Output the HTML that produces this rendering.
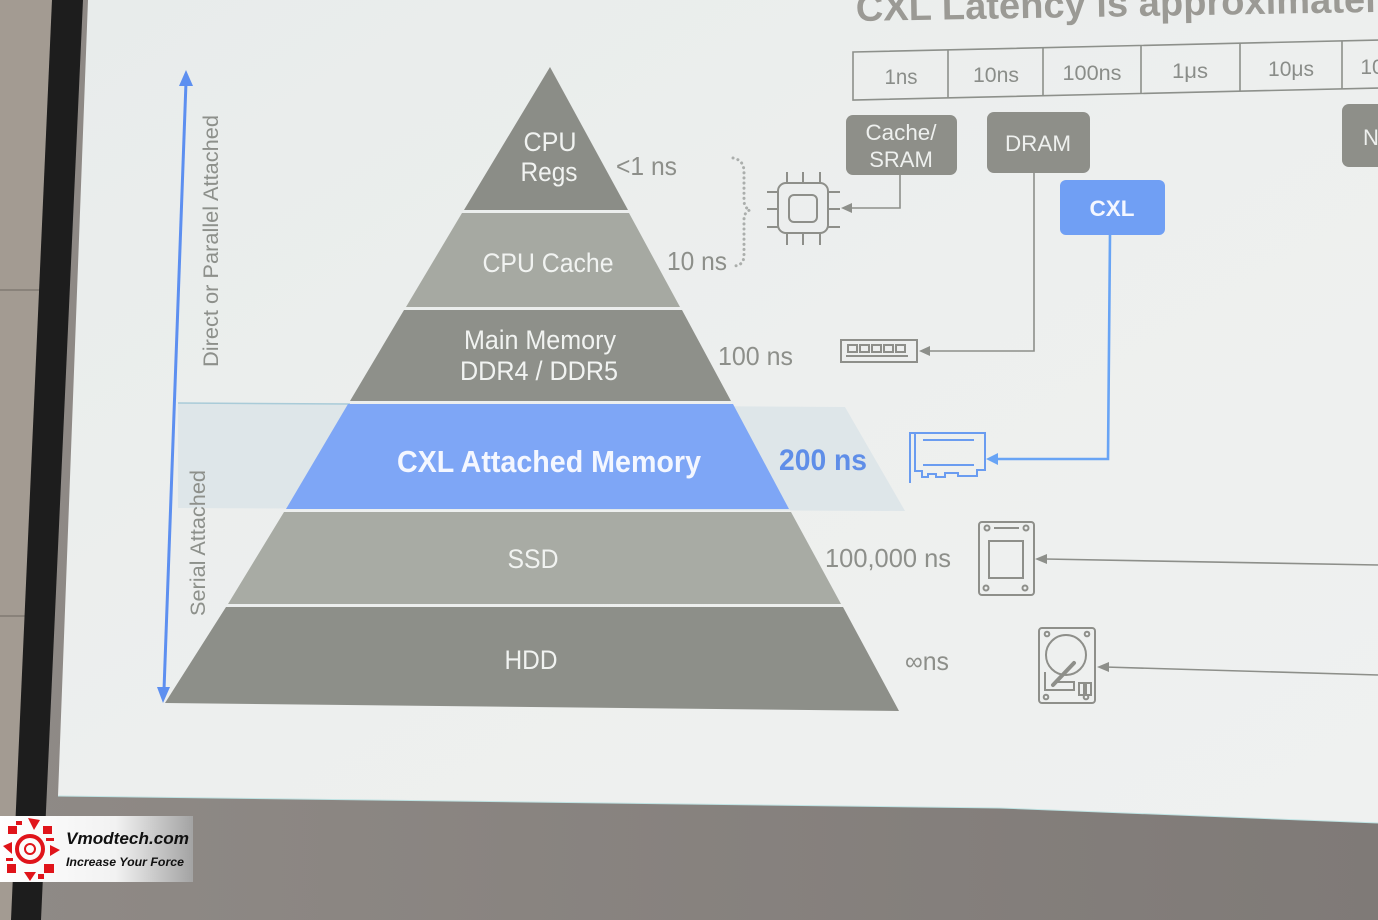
<!DOCTYPE html>
<html><head><meta charset="utf-8"><style>
html,body{margin:0;padding:0;background:#8b8683;}
svg{display:block}
text{font-family:"Liberation Sans",sans-serif}
</style></head><body>
<svg width="1378" height="920" viewBox="0 0 1378 920" xmlns="http://www.w3.org/2000/svg">
<defs>
<linearGradient id="bgg" x1="0" y1="0" x2="1" y2="0">
<stop offset="0" stop-color="#8f8a86"/><stop offset="1" stop-color="#7f7a77"/>
</linearGradient>
<linearGradient id="slideg" x1="0" y1="0" x2="1" y2="1">
<stop offset="0" stop-color="#e8eceb"/><stop offset="0.5" stop-color="#edefee"/><stop offset="1" stop-color="#eff1f0"/>
</linearGradient>
<linearGradient id="logog" x1="0" y1="0" x2="1" y2="0">
<stop offset="0" stop-color="#ffffff"/><stop offset="0.6" stop-color="#f2f2f2"/><stop offset="1" stop-color="#a3a3a3"/>
</linearGradient>
</defs>
<!-- background -->
<rect x="0" y="0" width="1378" height="920" fill="url(#bgg)"/>
<polygon points="0,0 52,0 12,920 0,920" fill="#a39b92"/>
<line x1="0" y1="290" x2="48" y2="290" stroke="#6f6a62" stroke-width="1"/>
<line x1="0" y1="616" x2="34" y2="616" stroke="#6f6a62" stroke-width="1"/>
<polygon points="52,0 83,0 41,920 11,920" fill="#1d1d1d"/>
<!-- slide -->
<polygon points="88,0 1378,0 1378,823 1000,808 58,796" fill="url(#slideg)"/>
<polyline points="58,796 1000,808 1378,823" fill="none" stroke="#bfe3e3" stroke-width="1"/>

<!-- title -->
<text x="856" y="21" font-size="38" font-weight="bold" fill="#9b9a95" transform="rotate(-1 856 21)" textLength="520" lengthAdjust="spacingAndGlyphs">CXL Latency is approximatel</text>

<!-- latency table -->
<g stroke="#8d908b" stroke-width="1.6" fill="none">
<polygon points="853,52 1380,40 1380,88 853,100"/>
<line x1="948" y1="50" x2="948" y2="98"/>
<line x1="1043" y1="48" x2="1043" y2="96"/>
<line x1="1141" y1="45" x2="1141" y2="93"/>
<line x1="1240" y1="43" x2="1240" y2="91"/>
<line x1="1342" y1="41" x2="1342" y2="89"/>
</g>
<g font-size="21" fill="#8a8d89" text-anchor="middle">
<text x="901" y="84" textLength="33" lengthAdjust="spacingAndGlyphs">1ns</text>
<text x="996" y="82" textLength="46" lengthAdjust="spacingAndGlyphs">10ns</text>
<text x="1092" y="80" textLength="59" lengthAdjust="spacingAndGlyphs">100ns</text>
<text x="1190" y="78" textLength="36" lengthAdjust="spacingAndGlyphs">1μs</text>
<text x="1291" y="76">10μs</text>
<text x="1372" y="74">10</text>
</g>

<!-- boxes -->
<rect x="846" y="115" width="111" height="60" rx="7" fill="#8e8f89"/>
<text x="901" y="140" font-size="22" fill="#eef0ee" text-anchor="middle" textLength="71" lengthAdjust="spacingAndGlyphs">Cache/</text>
<text x="901" y="167" font-size="22" fill="#eef0ee" text-anchor="middle">SRAM</text>
<rect x="987" y="112" width="103" height="61" rx="7" fill="#8e8f89"/>
<text x="1038" y="151" font-size="22" fill="#eef0ee" text-anchor="middle" textLength="66" lengthAdjust="spacingAndGlyphs">DRAM</text>
<rect x="1060" y="180" width="105" height="55" rx="6" fill="#709ff4"/>
<text x="1112" y="216" font-size="22" font-weight="bold" fill="#f4f7ff" text-anchor="middle" textLength="45" lengthAdjust="spacingAndGlyphs">CXL</text>
<rect x="1342" y="104" width="60" height="63" rx="7" fill="#8e8f89"/>
<text x="1363" y="145" font-size="22" fill="#eef0ee">N</text>

<!-- connectors -->
<g stroke="#8d8f8a" stroke-width="1.6" fill="none">
<polyline points="900,175 900,208 850,208"/>
<polyline points="1034,173 1034,351 928,351"/>
<line x1="1378" y1="565" x2="1045" y2="559"/>
<line x1="1378" y1="675" x2="1105" y2="667"/>
</g>
<g fill="#8d8f8a">
<polygon points="841,208 852,203 852,213"/>
<polygon points="919,351 930,346 930,356"/>
<polygon points="1035,559 1047,554 1047,564"/>
<polygon points="1097,667 1109,662 1109,672"/>
</g>
<polyline points="1110,235 1108,459 996,459" fill="none" stroke="#68a4f5" stroke-width="2.6"/>
<polygon points="986,459 998,453 998,465" fill="#68a4f5"/>

<!-- dotted brace -->
<path d="M733,158 Q744,160 744,172 L744,200 Q744,208 750,210 Q744,212 744,220 L744,255 Q744,266 733,266" fill="none" stroke="#abaeac" stroke-width="3" stroke-dasharray="0.1 5" stroke-linecap="round"/>

<!-- chip icon -->
<g stroke="#8e8f8a" stroke-width="2" fill="none">
<rect x="778" y="183" width="50" height="50" rx="8"/>
<rect x="789" y="195" width="28" height="27" rx="5"/>
<line x1="787" y1="172" x2="787" y2="183"/><line x1="803" y1="172" x2="803" y2="183"/><line x1="820" y1="172" x2="820" y2="183"/>
<line x1="787" y1="233" x2="787" y2="245"/><line x1="803" y1="233" x2="803" y2="245"/><line x1="820" y1="233" x2="820" y2="245"/>
<line x1="767" y1="192" x2="778" y2="192"/><line x1="767" y1="209" x2="778" y2="209"/><line x1="767" y1="227" x2="778" y2="227"/>
<line x1="828" y1="192" x2="840" y2="192"/><line x1="828" y1="209" x2="840" y2="209"/><line x1="828" y1="227" x2="840" y2="227"/>
</g>

<!-- memory module icon -->
<g stroke="#8e8f8a" stroke-width="2" fill="none">
<rect x="841" y="340" width="76" height="22"/>
<rect x="848" y="345" width="9" height="7"/><rect x="860" y="345" width="9" height="7"/><rect x="872" y="345" width="9" height="7"/><rect x="884" y="345" width="9" height="7"/><rect x="896" y="345" width="9" height="7"/>
<line x1="846" y1="356" x2="908" y2="356"/>
</g>

<!-- CXL card icon -->
<g stroke="#6a9cf0" stroke-width="2" fill="none">
<polyline points="914,433 910,433 910,483"/>
<path d="M915,433 H985 V470 H977 V476 H958 V473 H945 V477 H936 V474 H928 V477 H922 V471 H915 Z"/>
<line x1="923" y1="440" x2="974" y2="440"/>
<line x1="923" y1="465" x2="974" y2="465"/>
</g>

<!-- SSD icon -->
<g stroke="#8e8f8a" stroke-width="2" fill="none">
<rect x="979" y="522" width="55" height="73" rx="3"/>
<rect x="989" y="541" width="34" height="37"/>
<line x1="994" y1="528" x2="1019" y2="528"/>
<circle cx="987" cy="528" r="2.5"/><circle cx="1026" cy="528" r="2.5"/>
<circle cx="986" cy="588" r="2.5"/><circle cx="1025" cy="588" r="2.5"/>
</g>

<!-- HDD icon -->
<g stroke="#8e8f8a" stroke-width="2" fill="none">
<rect x="1039" y="628" width="56" height="75" rx="3"/>
<circle cx="1047" cy="634" r="2.3"/><circle cx="1087" cy="634" r="2.3"/>
<circle cx="1046" cy="697" r="2.3"/><circle cx="1086" cy="697" r="2.3"/>
<circle cx="1066" cy="655" r="20"/>
<path d="M1045,672 V690 H1074 V682 H1056"/>
<rect x="1079" y="683" width="5" height="12"/><rect x="1086" y="683" width="5" height="12"/>
</g>
<line x1="1074" y1="663" x2="1053" y2="685" stroke="#8e8f8a" stroke-width="4" stroke-linecap="round"/>

<!-- highlight band -->
<polygon points="178,403 845,407 905,511 178,508" fill="#dee6e9"/>
<line x1="178" y1="403" x2="350" y2="404" stroke="#a9cbd8" stroke-width="1.5"/>

<!-- vertical arrow -->
<line x1="186" y1="82" x2="164" y2="690" stroke="#5d8ff0" stroke-width="3"/>
<polygon points="186,70 179,86 193,86" fill="#5d8ff0"/>
<polygon points="163,703 157,687 170,687" fill="#5d8ff0"/>
<text transform="translate(218 241) rotate(-90)" font-size="21.5" fill="#8d908b" text-anchor="middle" textLength="252" lengthAdjust="spacingAndGlyphs">Direct or Parallel Attached</text>
<text transform="translate(205 543) rotate(-90)" font-size="21.5" fill="#8d908b" text-anchor="middle" textLength="146" lengthAdjust="spacingAndGlyphs">Serial Attached</text>

<!-- pyramid -->
<polygon points="550,67 628,210 464,210" fill="#8b8d87"/>
<polygon points="462,213 629,213 680,307 406,307" fill="#a6a9a2"/>
<polygon points="404,310 682,310 731,401 350,401" fill="#8e908a"/>
<polygon points="348,404 733,404 789,509 286,509" fill="#7ea6f6"/>
<polygon points="284,512 791,512 841,604 228,604" fill="#a8aba4"/>
<polygon points="226,607 843,607 899,711 165,703" fill="#8d8f89"/>

<g fill="#f1f3f1" font-size="27" text-anchor="middle">
<text x="550" y="151" textLength="53" lengthAdjust="spacingAndGlyphs">CPU</text>
<text x="549" y="181" textLength="57" lengthAdjust="spacingAndGlyphs">Regs</text>
<text x="548" y="272" textLength="131" lengthAdjust="spacingAndGlyphs">CPU Cache</text>
<text x="540" y="349" textLength="152" lengthAdjust="spacingAndGlyphs">Main Memory</text>
<text x="539" y="380" textLength="158" lengthAdjust="spacingAndGlyphs">DDR4 / DDR5</text>
<text x="533" y="568" textLength="51" lengthAdjust="spacingAndGlyphs">SSD</text>
<text x="531" y="669" textLength="53" lengthAdjust="spacingAndGlyphs">HDD</text>
</g>
<text x="549" y="472" font-size="31" font-weight="bold" fill="#f4f7ff" text-anchor="middle" textLength="304" lengthAdjust="spacingAndGlyphs">CXL Attached Memory</text>

<!-- latency labels -->
<g fill="#8d8f8a" font-size="26">
<text x="616" y="175" textLength="61" lengthAdjust="spacingAndGlyphs">&lt;1 ns</text>
<text x="667" y="270" textLength="60" lengthAdjust="spacingAndGlyphs">10 ns</text>
<text x="718" y="365" textLength="75" lengthAdjust="spacingAndGlyphs">100 ns</text>
<text x="825" y="567" textLength="126" lengthAdjust="spacingAndGlyphs">100,000 ns</text>
<text x="905" y="670" textLength="44" lengthAdjust="spacingAndGlyphs">∞ns</text>
</g>
<text x="779" y="470" font-size="30" font-weight="bold" fill="#5f8ee8" textLength="88" lengthAdjust="spacingAndGlyphs">200 ns</text>

<!-- logo -->
<rect x="0" y="816" width="193" height="66" fill="url(#logog)"/>
<g fill="#e0141a" stroke="#e0141a">
<circle cx="30" cy="849" r="13" fill="none" stroke-width="4"/>
<circle cx="30" cy="849" r="5" fill="none" stroke-width="2"/>
<polygon points="28,818 40,820 34,830" stroke="none"/>
<polygon points="3,846 12,842 12,854" stroke="none"/>
<polygon points="60,850 50,845 50,856" stroke="none"/>
<polygon points="30,881 24,872 36,872" stroke="none"/>
<rect x="8" y="826" width="9" height="8" stroke="none"/>
<rect x="43" y="826" width="9" height="8" stroke="none"/>
<rect x="7" y="864" width="9" height="9" stroke="none"/>
<rect x="44" y="864" width="10" height="9" stroke="none"/>
<rect x="16" y="821" width="6" height="4" stroke="none"/>
<rect x="46" y="838" width="8" height="3" stroke="none"/>
<rect x="6" y="858" width="7" height="3" stroke="none"/>
<rect x="38" y="874" width="6" height="5" stroke="none"/>
</g>
<text x="66" y="844" font-size="17" font-weight="bold" font-style="italic" fill="#111" textLength="123" lengthAdjust="spacingAndGlyphs">Vmodtech.com</text>
<text x="66" y="866" font-size="12" font-weight="bold" font-style="italic" fill="#111" textLength="118" lengthAdjust="spacingAndGlyphs">Increase Your Force</text>
</svg>
</body></html>
